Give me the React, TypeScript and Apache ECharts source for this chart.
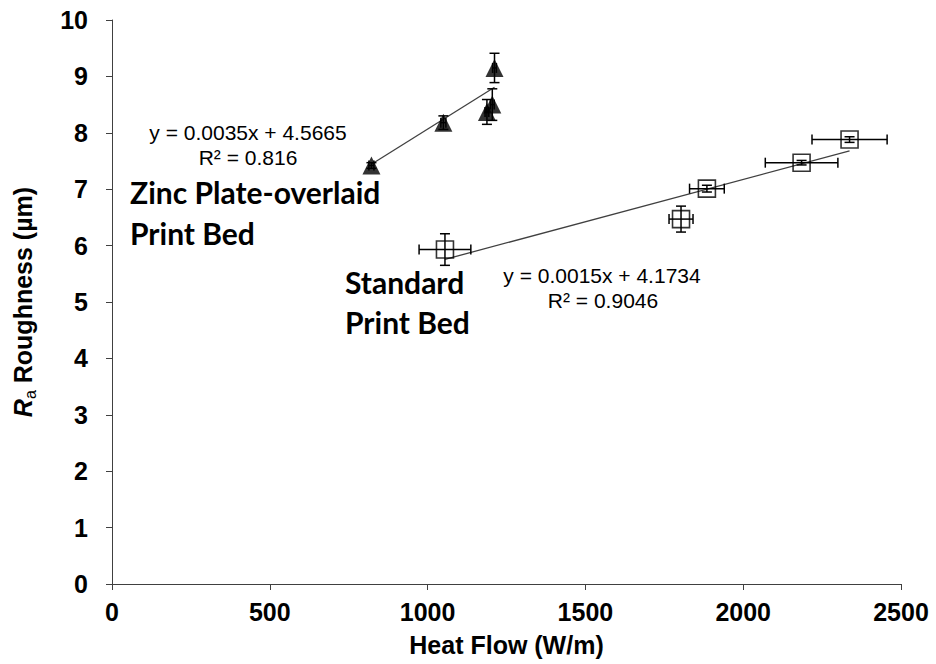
import React, { useEffect, useRef } from "react";
import * as echarts from "echarts";

// Zinc plate-overlaid print bed (filled triangles)
const zincX = [822, 1050, 1188, 1205, 1212];
const zincY = [7.42, 8.18, 8.37, 8.5, 9.15];
const zincXErr = [8, 8, 6, 6, 6];
const zincYErr = [0.05, 0.12, 0.22, 0.28, 0.26];

// Standard print bed (hollow squares)
const stdX = [1055, 1803, 1885, 2185, 2337];
const stdY = [5.93, 6.47, 7.01, 7.47, 7.88];
const stdXErr = [82, 38, 55, 115, 119];
const stdYErr = [0.28, 0.23, 0.06, 0.04, 0.05];

// Trendline coefficients (slope, intercept) as displayed
const zincFit = [0.0035, 4.5665];
const stdFit = [0.0015, 4.1734];

const zincEq = "y = 0.0035x + 4.5665";
const zincR2 = "R² = 0.816";
const stdEq = "y = 0.0015x + 4.1734";
const stdR2 = "R² = 0.9046";

const xTicks = [0, 500, 1000, 1500, 2000, 2500];
const yTicks = [0, 1, 2, 3, 4, 5, 6, 7, 8, 9, 10];

const ARIAL = "'Liberation Sans', Arial, sans-serif";
const CAL = "Lato, 'Open Sans', sans-serif";

function errRender(params: any, api: any) {
  const x = api.value(0);
  const y = api.value(1);
  const xe = api.value(2);
  const ye = api.value(3);
  const c = api.coord([x, y]);
  const l = api.coord([x - xe, y]);
  const r = api.coord([x + xe, y]);
  const t = api.coord([x, y + ye]);
  const b = api.coord([x, y - ye]);
  const cap = 5;
  const st = { stroke: "#000", lineWidth: 1.5 };
  const children: any[] = [
    { type: "line", shape: { x1: l[0], y1: c[1], x2: r[0], y2: c[1] }, style: st },
    { type: "line", shape: { x1: l[0], y1: c[1] - cap, x2: l[0], y2: c[1] + cap }, style: st },
    { type: "line", shape: { x1: r[0], y1: c[1] - cap, x2: r[0], y2: c[1] + cap }, style: st },
    { type: "line", shape: { x1: c[0], y1: t[1], x2: c[0], y2: b[1] }, style: st },
    { type: "line", shape: { x1: c[0] - cap, y1: t[1], x2: c[0] + cap, y2: t[1] }, style: st },
    { type: "line", shape: { x1: c[0] - cap, y1: b[1], x2: c[0] + cap, y2: b[1] }, style: st },
  ];
  return { type: "group", children };
}

function fitLine(xs: number[], fit: number[]) {
  const lo = Math.min(...xs);
  const hi = Math.max(...xs);
  return [
    [lo, fit[0] * lo + fit[1]],
    [hi, fit[0] * hi + fit[1]],
  ];
}

export default function App() {
  const ref = useRef<HTMLDivElement>(null);
  useEffect(() => {
    if (!ref.current) return;
    const chart = echarts.init(ref.current, undefined, { renderer: "svg" });
    const axisCol = "#404040";
    const eqStyle = { fontFamily: ARIAL, fontSize: 21, fill: "#000", align: "center", verticalAlign: "middle" };
    const lblStyle = { fontFamily: CAL, fontWeight: "bold", fontSize: 30, fill: "#000", align: "left", verticalAlign: "middle" };
    chart.setOption({
      animation: false,
      backgroundColor: "#fff",
      grid: { left: 112, right: 35, top: 20, bottom: 80, containLabel: false },
      xAxis: {
        type: "value",
        min: xTicks[0],
        max: xTicks[xTicks.length - 1],
        interval: 500,
        name: "Heat Flow (W/m)",
        nameLocation: "middle",
        nameGap: 48,
        nameTextStyle: { fontFamily: ARIAL, fontWeight: "bold", fontSize: 25, color: "#000" },
        axisLine: { show: true, lineStyle: { color: axisCol, width: 1 } },
        axisTick: { show: true, inside: false, length: 6, lineStyle: { color: axisCol } },
        axisLabel: { fontFamily: ARIAL, fontWeight: "bold", fontSize: 25, color: "#000", margin: 15, formatter: (v: number) => String(v) },
        splitLine: { show: false },
      },
      yAxis: {
        type: "value",
        min: yTicks[0],
        max: yTicks[yTicks.length - 1],
        interval: 1,
        name: "{i|R}{s|a}{n| Roughness (µm)}",
        nameLocation: "middle",
        nameRotate: 90,
        nameGap: 74,
        nameTextStyle: {
          rich: {
            i: { fontFamily: ARIAL, fontWeight: "bold", fontStyle: "italic", fontSize: 25, color: "#000", lineHeight: 30 },
            s: { fontFamily: ARIAL, fontSize: 16, color: "#000", lineHeight: 14, verticalAlign: "bottom" },
            n: { fontFamily: ARIAL, fontWeight: "bold", fontSize: 25, color: "#000", lineHeight: 30 },
          },
        },
        axisLine: { show: true, lineStyle: { color: axisCol, width: 1 } },
        axisTick: { show: true, inside: false, length: 6, lineStyle: { color: axisCol } },
        axisLabel: { fontFamily: ARIAL, fontWeight: "bold", fontSize: 25, color: "#000", margin: 24 },
        splitLine: { show: false },
      },
      series: [
        {
          type: "line",
          data: fitLine(zincX, zincFit),
          symbol: "none",
          lineStyle: { color: "#404040", width: 1.3 },
          z: 1,
        },
        {
          type: "line",
          data: fitLine(stdX, stdFit),
          symbol: "none",
          lineStyle: { color: "#404040", width: 1.3 },
          z: 1,
        },
        {
          type: "custom",
          renderItem: errRender,
          data: zincX.map((x, i) => [x, zincY[i], zincXErr[i], zincYErr[i]]),
          z: 3,
        },
        {
          type: "custom",
          renderItem: errRender,
          data: stdX.map((x, i) => [x, stdY[i], stdXErr[i], stdYErr[i]]),
          z: 3,
        },
        {
          type: "scatter",
          data: zincX.map((x, i) => [x, zincY[i]]),
          symbol: "triangle",
          symbolSize: 18,
          itemStyle: { color: "#000" },
          z: 4,
        },
        {
          type: "scatter",
          data: stdX.map((x, i) => [x, stdY[i]]),
          symbol: "rect",
          symbolSize: 17,
          itemStyle: { color: "rgba(255,255,255,0)", borderColor: "#000", borderWidth: 1.6 },
          z: 4,
        },
      ],
      graphic: [
        { type: "text", x: 248, y: 132, style: { ...eqStyle, text: zincEq } },
        { type: "text", x: 248, y: 157, style: { ...eqStyle, text: zincR2 } },
        { type: "text", x: 602, y: 275, style: { ...eqStyle, text: stdEq } },
        { type: "text", x: 603, y: 300, style: { ...eqStyle, text: stdR2 } },
        { type: "text", x: 130, y: 192, style: { ...lblStyle, text: "Zinc Plate-overlaid" } },
        { type: "text", x: 130, y: 233, style: { ...lblStyle, text: "Print Bed" } },
        { type: "text", x: 345, y: 282, style: { ...lblStyle, text: "Standard" } },
        { type: "text", x: 345, y: 322, style: { ...lblStyle, text: "Print Bed" } },
      ],
    });
    return () => chart.dispose();
  }, []);
  return <div ref={ref} style={{ position: "fixed", left: 0, top: 0, width: 936, height: 664 }} />;
}
